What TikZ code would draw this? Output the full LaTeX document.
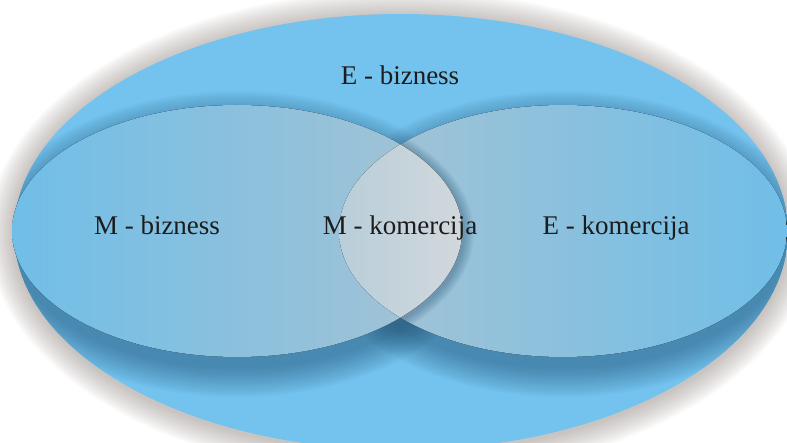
\documentclass[tikz,border=0pt]{standalone}
\usepackage{fontspec}
\setmainfont{Liberation Serif}
\definecolor{outerblue}{HTML}{73C3EE}
\definecolor{shadowgray}{HTML}{6E625C}
\definecolor{shadowblue}{HTML}{1F4D6E}
\definecolor{leftedge}{HTML}{70BEE8}
\definecolor{midgray}{HTML}{A6C3D3}
\definecolor{lensleft}{HTML}{B8CEDA}
\definecolor{lensright}{HTML}{D2D8DC}
\definecolor{labeltext}{HTML}{1C1C1C}
\begin{document}
\begin{tikzpicture}[x=1pt,y=-1pt,
  lbl/.style={font=\fontsize{27}{30}\selectfont, text=labeltext, inner sep=0pt, anchor=base}]
\useasboundingbox (0,0) rectangle (787,443);
\clip (0,0) rectangle (787,443);
% outer shadow
\foreach \k in {0,...,19}{
  \pgfmathsetmacro\rr{26*(1-\k/20)}
  \fill[shadowgray, opacity=0.022] (401,234) ellipse [x radius=387pt+\rr pt, y radius=218pt+\rr pt];
}
% outer ellipse
\fill[outerblue] (401,232) ellipse [x radius=387pt, y radius=218pt];
% shadows of the inner ellipses
\begin{scope}
  \clip (401,232) ellipse [x radius=387pt, y radius=218pt];
  \foreach \k in {0,...,19}{
    \pgfmathsetmacro\rr{30*(1-\k/20)}
    \fill[shadowblue, opacity=0.028] (237,244) ellipse [x radius=222pt+\rr pt, y radius=123pt+\rr pt];
    \fill[shadowblue, opacity=0.028] (563,244) ellipse [x radius=221pt+\rr pt, y radius=123pt+\rr pt];
  }
\end{scope}
% right ellipse
\fill[left color=midgray, right color=leftedge] (563,231) ellipse [x radius=224pt, y radius=126pt];
% shadow of left ellipse onto right ellipse
\begin{scope}
  \clip (563,231) ellipse [x radius=224pt, y radius=126pt];
  \foreach \k in {0,...,9}{
    \pgfmathsetmacro\rr{10*(1-\k/10)}
    \fill[shadowblue, opacity=0.04] (239,233) ellipse [x radius=225pt+\rr pt, y radius=126pt+\rr pt];
  }
\end{scope}
% left ellipse
\fill[left color=leftedge, right color=midgray] (237,231) ellipse [x radius=225pt, y radius=126pt];
% lens
\begin{scope}
  \clip (237,231) ellipse [x radius=225pt, y radius=126pt];
  \clip (563,231) ellipse [x radius=224pt, y radius=126pt];
  \fill[left color=lensleft, right color=lensright] (338,100) rectangle (464,362);
\end{scope}
% labels
\node[lbl] (ebiz) at (400,85) {E - bizness};
\node[lbl] (mbiz) at (157,235) {M - bizness};
\node[lbl] (mkom) at (400,235) {M - komercija};
\node[lbl] (ekom) at (616,235) {E - komercija};
\end{tikzpicture}
\end{document}
